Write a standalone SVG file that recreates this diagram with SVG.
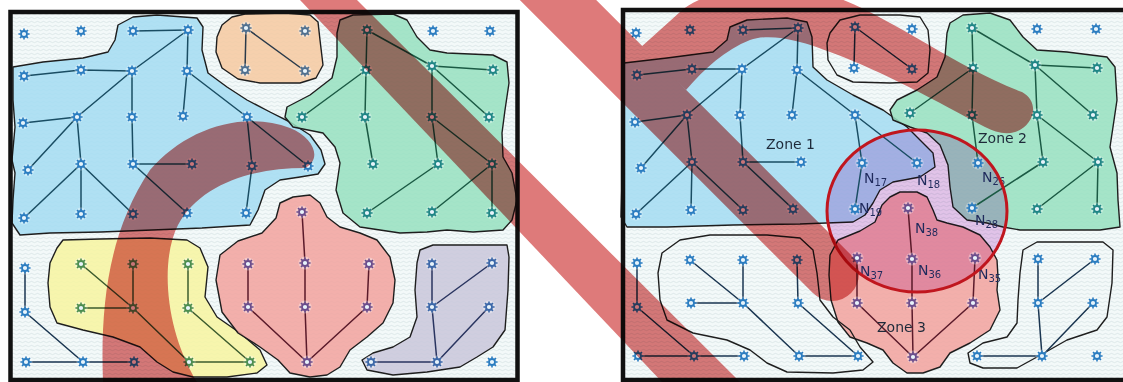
<svg xmlns="http://www.w3.org/2000/svg" xmlns:xlink="http://www.w3.org/1999/xlink" width="1123" height="382" viewBox="0 0 1123 382">
<style>
.zn{stroke:#1e1e1e;stroke-width:1.4;stroke-linejoin:round;fill-opacity:0.85}
.zb{fill:#a3dcf2}.zo{fill:#f6c9a0}.zg{fill:#97e0c0}.zy{fill:#f7f5a0}.zr{fill:#f2a29e}.zp{fill:#c9c7da}.zw{fill:none}
.e line,.e polyline{fill:none;stroke-width:1.5;stroke-linecap:round;stroke-linejoin:round}
.eb{stroke:#1a4d63}.eo{stroke:#2a3a4a}.eg{stroke:#1b5a44}.ey{stroke:#3d5c2e}.ew{stroke:#1a3550}.er{stroke:#5a1a2a}.ep{stroke:#2a3560}
.nb{color:#2a7cc0}.ng{color:#1f8585}.ny{color:#4b8d4f}.nr{color:#6b4d8c}.np{color:#3b67a8}.no{color:#50708f}
.zl{font-family:"DejaVu Sans",Verdana,sans-serif;font-size:14px;fill:#1e2a3a}
.nl{font-family:"DejaVu Sans",Verdana,sans-serif;font-size:14px;fill:#1f2a5c}
.nl tspan{font-size:10px}
.fr{fill:none;stroke:#111;stroke-width:4.5}
</style>
<defs>
<pattern id="tx" width="6" height="4" patternUnits="userSpaceOnUse">
<rect width="6" height="4" fill="#f3f9f9"/>
<path d="M0 2 Q1.5 0.8 3 2 T6 2" fill="none" stroke="#d3e1e3" stroke-width="0.7"/>
</pattern>
<g id="nd">
<circle r="6.5" fill="#ffffff" opacity="0.35"/>
<path d="M0-5.6V-3.4M0 3.4V5.6M-5.6 0H-3.4M3.4 0H5.6M-4-4L-2.4-2.4M2.4 2.4L4 4M-4 4L-2.4 2.4M2.4-2.4L4-4" stroke="currentColor" stroke-width="1.6"/>
<circle r="3" fill="#e8f4fb" stroke="currentColor" stroke-width="1.8"/>
</g>
</defs>
<rect width="1123" height="382" fill="#ffffff"/>
<rect x="10" y="12" width="508" height="368" fill="url(#tx)"/>
<rect x="623" y="10" width="505" height="372" fill="url(#tx)"/>

<g id="zones-left">
<path id="L-zone-blue" class="zn zb" d="M13,67 L43,62 83,58 108,52 115,40 118,25 133,17 157,15 197,18 203,27 202,50 208,73 227,87 247,100 270,112 290,122 310,135 321,150 325,164 318,174 300,177 280,180 265,190 258,210 250,225 202,228 152,230 101,232 50,233 20,235 12,223 13,200 15,173 12,160 15,127 13,100 Z"/>
<path id="L-zone-orange" class="zn zo" d="M217,37 L222,25 232,17 245,14 285,13 310,15 318,22 320,40 323,65 316,78 300,83 260,83 238,79 222,68 216,52 Z"/>
<path id="L-zone-green" class="zn zg" d="M340,20 L353,15 393,14 407,20 417,37 430,50 447,53 493,55 507,62 509,83 505,110 502,133 503,157 512,173 517,200 512,220 503,230 473,232 447,230 427,232 400,233 360,227 343,213 336,190 340,163 335,147 323,133 293,127 285,117 287,107 310,95 332,78 337,57 337,33 Z"/>
<path id="L-zone-yellow" class="zn zy" d="M63,240 L100,239 150,238 187,240 200,248 208,267 205,297 217,317 240,333 260,350 267,365 257,373 227,377 193,377 173,372 157,362 140,347 113,337 83,330 57,323 50,307 48,283 50,263 57,248 Z"/>
<path id="L-zone-red" class="zn zr" d="M276,218 L280,203 293,197 310,195 320,203 327,217 340,227 360,233 377,240 390,257 395,280 393,303 383,323 367,337 350,350 340,367 327,375 310,377 290,373 278,360 260,347 238,333 222,312 216,280 220,255 238,241 262,233 Z"/>
<path id="L-zone-purple" class="zn zp" d="M417,263 L420,250 433,245 507,245 509,257 508,290 505,330 493,347 477,357 460,367 427,372 393,375 367,370 362,360 373,353 393,347 410,337 417,317 415,290 Z"/>
</g>

<g id="zones-right">
<path id="R-zone-1" class="zn zb" d="M624,63 L667,58 713,52 727,40 730,27 747,20 787,18 807,22 812,37 813,67 827,80 853,95 883,110 907,127 920,140 933,153 935,167 920,177 893,182 880,190 873,203 865,215 853,222 800,224 733,225 667,227 627,227 621,217 622,180 624,120 Z"/>
<path id="R-zone-2" class="zn zg" d="M950,23 L963,15 990,13 1010,20 1023,37 1037,50 1067,52 1107,57 1115,67 1117,100 1113,127 1110,147 1117,173 1118,200 1120,227 1100,230 1043,230 1020,230 1003,227 987,223 967,220 953,207 950,187 948,165 940,145 927,133 910,127 893,120 890,110 897,100 917,90 937,77 945,57 947,33 Z"/>
<path id="R-zone-3" class="zn zr" d="M890,197 L900,192 917,192 927,197 933,210 937,220 947,223 963,227 980,235 990,247 997,260 998,277 997,290 1000,310 990,330 970,343 950,353 940,367 923,373 907,373 893,363 883,350 867,343 850,337 838,322 831,300 829,275 830,255 838,240 860,231 875,222 882,205 Z"/>
<path id="R-zone-top" class="zn zw" d="M827,43 L830,33 840,20 860,15 900,15 920,17 928,30 930,50 928,73 917,82 890,83 853,82 837,75 828,60 Z"/>
<path id="R-zone-bl" class="zn zw" d="M662,253 L680,240 710,235 767,235 800,238 813,250 817,273 820,300 833,317 850,330 860,347 873,362 863,370 833,373 787,372 767,363 750,350 727,340 693,333 667,320 660,300 658,273 Z"/>
<path id="R-zone-br" class="zn zw" d="M1020,273 L1023,250 1037,242 1103,242 1113,250 1112,283 1107,317 1097,330 1067,340 1037,357 1017,368 983,368 970,363 968,353 983,343 1007,337 1017,323 1018,300 Z"/>
</g>

<ellipse id="circle-tint" cx="917" cy="211" rx="90" ry="81" fill="#ecc8ee" style="mix-blend-mode:multiply"/>

<g id="connectors" class="e">
<g class="eb">
<line x1="133" y1="31" x2="188" y2="30"/><line x1="188" y1="30" x2="187" y2="71"/>
<polyline points="188,30 132,71 77,117"/><polyline points="24,76 81,70 132,71 132,117 133,164 192,164"/>
<line x1="187" y1="71" x2="183" y2="116"/><polyline points="187,71 247,117 308,166"/>
<polyline points="247,117 252,166 246,213"/><line x1="23" y1="123" x2="77" y2="117"/>
<line x1="77" y1="117" x2="28" y2="170"/><line x1="77" y1="117" x2="81" y2="164"/>
<line x1="81" y1="164" x2="24" y2="218"/><line x1="81" y1="164" x2="81" y2="214"/>
<line x1="81" y1="164" x2="133" y2="214"/><line x1="133" y1="164" x2="187" y2="213"/>
</g>
<g class="eo"><line x1="246" y1="28" x2="245" y2="70"/><line x1="246" y1="28" x2="305" y2="71"/></g>
<g class="eg">
<polyline points="367,30 366,70 365,117 373,164"/><line x1="366" y1="70" x2="302" y2="117"/>
<line x1="367" y1="30" x2="432" y2="66"/><line x1="432" y1="66" x2="493" y2="70"/>
<line x1="432" y1="66" x2="489" y2="117"/><polyline points="432,66 432,117 438,164"/>
<line x1="432" y1="117" x2="492" y2="164"/><line x1="438" y1="164" x2="367" y2="213"/>
<line x1="492" y1="164" x2="432" y2="212"/><line x1="492" y1="164" x2="492" y2="213"/>
</g>
<g class="ey">
<polyline points="81,264 133,308 189,362"/><line x1="81" y1="308" x2="133" y2="308"/>
<line x1="133" y1="264" x2="133" y2="308"/><line x1="188" y1="264" x2="188" y2="308"/>
<line x1="188" y1="308" x2="250" y2="362"/><line x1="189" y1="362" x2="250" y2="362"/>
</g>
<g class="ew">
<line x1="25" y1="268" x2="25" y2="312"/><line x1="25" y1="312" x2="83" y2="362"/>
<polyline points="26,362 83,362 134,362"/>
</g>
<g class="er">
<polyline points="302,212 305,263 305,307 307,362"/><line x1="248" y1="264" x2="248" y2="307"/>
<line x1="248" y1="307" x2="307" y2="362"/><line x1="369" y1="264" x2="367" y2="307"/>
<line x1="367" y1="307" x2="307" y2="362"/>
</g>
<g class="ep">
<polyline points="432,264 432,307 437,362"/><line x1="432" y1="307" x2="492" y2="263"/>
<line x1="489" y1="307" x2="437" y2="362"/><line x1="371" y1="362" x2="437" y2="362"/>
</g>

<g class="eb">
<line x1="743" y1="30" x2="798" y2="28"/><line x1="798" y1="28" x2="797" y2="70"/>
<polyline points="798,28 742,69 687,115"/><polyline points="637,75 692,69 742,69 740,115 743,162 801,162"/>
<line x1="797" y1="70" x2="792" y2="115"/><polyline points="797,70 855,115 917,163"/>
<polyline points="855,115 862,163 855,209"/><line x1="635" y1="122" x2="687" y2="115"/>
<line x1="687" y1="115" x2="641" y2="168"/><line x1="687" y1="115" x2="692" y2="162"/>
<line x1="692" y1="162" x2="636" y2="214"/><line x1="692" y1="162" x2="691" y2="210"/>
<line x1="692" y1="162" x2="743" y2="210"/><line x1="743" y1="162" x2="793" y2="209"/>
</g>
<g class="ew"><line x1="855" y1="27" x2="854" y2="68"/><line x1="855" y1="27" x2="912" y2="69"/></g>
<g class="eg">
<polyline points="972,28 973,68 972,115 978,163"/><line x1="973" y1="68" x2="910" y2="113"/>
<line x1="972" y1="28" x2="1035" y2="65"/><line x1="1035" y1="65" x2="1097" y2="68"/>
<line x1="1035" y1="65" x2="1093" y2="115"/><polyline points="1035,65 1037,115 1043,162"/>
<line x1="1037" y1="115" x2="1098" y2="162"/><line x1="1043" y1="162" x2="972" y2="208"/>
<line x1="1098" y1="162" x2="1037" y2="209"/><line x1="1098" y1="162" x2="1097" y2="209"/>
</g>
<g class="ew">
<polyline points="690,260 743,303 799,356"/><line x1="691" y1="303" x2="743" y2="303"/>
<line x1="743" y1="260" x2="743" y2="303"/><line x1="797" y1="260" x2="798" y2="303"/>
<line x1="798" y1="303" x2="858" y2="356"/><line x1="799" y1="356" x2="858" y2="356"/>
<line x1="637" y1="263" x2="637" y2="307"/><line x1="637" y1="307" x2="694" y2="356"/>
<polyline points="638,356 694,356 744,356"/>
<polyline points="1038,259 1038,303 1042,356"/><line x1="1038" y1="303" x2="1095" y2="259"/>
<line x1="1093" y1="303" x2="1042" y2="356"/><line x1="977" y1="356" x2="1042" y2="356"/>
</g>
<g class="er">
<polyline points="908,208 912,259 912,303 913,357"/><line x1="857" y1="258" x2="857" y2="303"/>
<line x1="857" y1="303" x2="913" y2="357"/><line x1="975" y1="258" x2="973" y2="303"/>
<line x1="973" y1="303" x2="913" y2="357"/>
</g>
</g>

<g id="nodes-left">
<g id="L11" class="nb"><use href="#nd" x="24" y="34"/></g><g id="L12" class="nb"><use href="#nd" x="81" y="31"/></g><g id="L13" class="nb"><use href="#nd" x="133" y="31"/></g><g id="L14" class="nb"><use href="#nd" x="188" y="30"/></g><g id="L15" class="no"><use href="#nd" x="246" y="28"/></g><g id="L16" class="no"><use href="#nd" x="305" y="31"/></g><g id="L17" class="ng"><use href="#nd" x="367" y="30"/></g><g id="L18" class="nb"><use href="#nd" x="433" y="31"/></g><g id="L19" class="nb"><use href="#nd" x="490" y="31"/></g>
<g id="L21" class="nb"><use href="#nd" x="24" y="76"/></g><g id="L22" class="nb"><use href="#nd" x="81" y="70"/></g><g id="L23" class="nb"><use href="#nd" x="132" y="71"/></g><g id="L24" class="nb"><use href="#nd" x="187" y="71"/></g><g id="L25" class="no"><use href="#nd" x="245" y="70"/></g><g id="L26" class="no"><use href="#nd" x="305" y="71"/></g><g id="L27" class="ng"><use href="#nd" x="366" y="70"/></g><g id="L28" class="ng"><use href="#nd" x="432" y="66"/></g><g id="L29" class="ng"><use href="#nd" x="493" y="70"/></g>
<g id="L31" class="nb"><use href="#nd" x="23" y="123"/></g><g id="L32" class="nb"><use href="#nd" x="77" y="117"/></g><g id="L33" class="nb"><use href="#nd" x="132" y="117"/></g><g id="L34" class="nb"><use href="#nd" x="183" y="116"/></g><g id="L35" class="nb"><use href="#nd" x="247" y="117"/></g><g id="L36" class="ng"><use href="#nd" x="302" y="117"/></g><g id="L37" class="ng"><use href="#nd" x="365" y="117"/></g><g id="L38" class="ng"><use href="#nd" x="432" y="117"/></g><g id="L39" class="ng"><use href="#nd" x="489" y="117"/></g>
<g id="L41" class="nb"><use href="#nd" x="28" y="170"/></g><g id="L42" class="nb"><use href="#nd" x="81" y="164"/></g><g id="L43" class="nb"><use href="#nd" x="133" y="164"/></g><g id="L44" class="nb"><use href="#nd" x="192" y="164"/></g><g id="L45" class="nb"><use href="#nd" x="252" y="166"/></g><g id="L46" class="nb"><use href="#nd" x="308" y="166"/></g><g id="L47" class="ng"><use href="#nd" x="373" y="164"/></g><g id="L48" class="ng"><use href="#nd" x="438" y="164"/></g><g id="L49" class="ng"><use href="#nd" x="492" y="164"/></g>
<g id="L51" class="nb"><use href="#nd" x="24" y="218"/></g><g id="L52" class="nb"><use href="#nd" x="81" y="214"/></g><g id="L53" class="nb"><use href="#nd" x="133" y="214"/></g><g id="L54" class="nb"><use href="#nd" x="187" y="213"/></g><g id="L55" class="nb"><use href="#nd" x="246" y="213"/></g><g id="L56" class="nr"><use href="#nd" x="302" y="212"/></g><g id="L57" class="ng"><use href="#nd" x="367" y="213"/></g><g id="L58" class="ng"><use href="#nd" x="432" y="212"/></g><g id="L59" class="ng"><use href="#nd" x="492" y="213"/></g>
<g id="L61" class="nb"><use href="#nd" x="25" y="268"/></g><g id="L62" class="ny"><use href="#nd" x="81" y="264"/></g><g id="L63" class="ny"><use href="#nd" x="133" y="264"/></g><g id="L64" class="ny"><use href="#nd" x="188" y="264"/></g><g id="L65" class="nr"><use href="#nd" x="248" y="264"/></g><g id="L66" class="nr"><use href="#nd" x="305" y="263"/></g><g id="L67" class="nr"><use href="#nd" x="369" y="264"/></g><g id="L68" class="np"><use href="#nd" x="432" y="264"/></g><g id="L69" class="np"><use href="#nd" x="492" y="263"/></g>
<g id="L71" class="nb"><use href="#nd" x="25" y="312"/></g><g id="L72" class="ny"><use href="#nd" x="81" y="308"/></g><g id="L73" class="ny"><use href="#nd" x="133" y="308"/></g><g id="L74" class="ny"><use href="#nd" x="188" y="308"/></g><g id="L75" class="nr"><use href="#nd" x="248" y="307"/></g><g id="L76" class="nr"><use href="#nd" x="305" y="307"/></g><g id="L77" class="nr"><use href="#nd" x="367" y="307"/></g><g id="L78" class="np"><use href="#nd" x="432" y="307"/></g><g id="L79" class="np"><use href="#nd" x="489" y="307"/></g>
<g id="L81" class="nb"><use href="#nd" x="26" y="362"/></g><g id="L82" class="nb"><use href="#nd" x="83" y="362"/></g><g id="L83" class="nb"><use href="#nd" x="134" y="362"/></g><g id="L84" class="ny"><use href="#nd" x="189" y="362"/></g><g id="L85" class="ny"><use href="#nd" x="250" y="362"/></g><g id="L86" class="nr"><use href="#nd" x="307" y="362"/></g><g id="L87" class="np"><use href="#nd" x="371" y="362"/></g><g id="L88" class="np"><use href="#nd" x="437" y="362"/></g><g id="L89" class="nb"><use href="#nd" x="492" y="362"/></g>
</g>

<g id="nodes-right">
<g id="R11" class="nb"><use href="#nd" x="636" y="33"/></g><g id="R12" class="nb"><use href="#nd" x="690" y="30"/></g><g id="R13" class="nb"><use href="#nd" x="743" y="30"/></g><g id="R14" class="nb"><use href="#nd" x="798" y="28"/></g><g id="R15" class="nb"><use href="#nd" x="855" y="27"/></g><g id="R16" class="nb"><use href="#nd" x="912" y="29"/></g><g id="R17" class="ng"><use href="#nd" x="972" y="28"/></g><g id="R18" class="nb"><use href="#nd" x="1037" y="29"/></g><g id="R19" class="nb"><use href="#nd" x="1096" y="29"/></g>
<g id="R21" class="nb"><use href="#nd" x="637" y="75"/></g><g id="R22" class="nb"><use href="#nd" x="692" y="69"/></g><g id="R23" class="nb"><use href="#nd" x="742" y="69"/></g><g id="R24" class="nb"><use href="#nd" x="797" y="70"/></g><g id="R25" class="nb"><use href="#nd" x="854" y="68"/></g><g id="R26" class="nb"><use href="#nd" x="912" y="69"/></g><g id="R27" class="ng"><use href="#nd" x="973" y="68"/></g><g id="R28" class="ng"><use href="#nd" x="1035" y="65"/></g><g id="R29" class="ng"><use href="#nd" x="1097" y="68"/></g>
<g id="R31" class="nb"><use href="#nd" x="635" y="122"/></g><g id="R32" class="nb"><use href="#nd" x="687" y="115"/></g><g id="R33" class="nb"><use href="#nd" x="740" y="115"/></g><g id="R34" class="nb"><use href="#nd" x="792" y="115"/></g><g id="R35" class="nb"><use href="#nd" x="855" y="115"/></g><g id="R36" class="ng"><use href="#nd" x="910" y="113"/></g><g id="R37" class="ng"><use href="#nd" x="972" y="115"/></g><g id="R38" class="ng"><use href="#nd" x="1037" y="115"/></g><g id="R39" class="ng"><use href="#nd" x="1093" y="115"/></g>
<g id="R41" class="nb"><use href="#nd" x="641" y="168"/></g><g id="R42" class="nb"><use href="#nd" x="692" y="162"/></g><g id="R43" class="nb"><use href="#nd" x="743" y="162"/></g><g id="R44" class="nb"><use href="#nd" x="801" y="162"/></g><g id="R45" class="nb"><use href="#nd" x="862" y="163"/></g><g id="R46" class="nb"><use href="#nd" x="917" y="163"/></g><g id="R47" class="nb"><use href="#nd" x="978" y="163"/></g><g id="R48" class="ng"><use href="#nd" x="1043" y="162"/></g><g id="R49" class="ng"><use href="#nd" x="1098" y="162"/></g>
<g id="R51" class="nb"><use href="#nd" x="636" y="214"/></g><g id="R52" class="nb"><use href="#nd" x="691" y="210"/></g><g id="R53" class="nb"><use href="#nd" x="743" y="210"/></g><g id="R54" class="nb"><use href="#nd" x="793" y="209"/></g><g id="R55" class="nb"><use href="#nd" x="855" y="209"/></g><g id="R56" class="nr"><use href="#nd" x="908" y="208"/></g><g id="R57" class="nb"><use href="#nd" x="972" y="208"/></g><g id="R58" class="ng"><use href="#nd" x="1037" y="209"/></g><g id="R59" class="ng"><use href="#nd" x="1097" y="209"/></g>
<g id="R61" class="nb"><use href="#nd" x="637" y="263"/></g><g id="R62" class="nb"><use href="#nd" x="690" y="260"/></g><g id="R63" class="nb"><use href="#nd" x="743" y="260"/></g><g id="R64" class="nb"><use href="#nd" x="797" y="260"/></g><g id="R65" class="nr"><use href="#nd" x="857" y="258"/></g><g id="R66" class="nr"><use href="#nd" x="912" y="259"/></g><g id="R67" class="nr"><use href="#nd" x="975" y="258"/></g><g id="R68" class="nb"><use href="#nd" x="1038" y="259"/></g><g id="R69" class="nb"><use href="#nd" x="1095" y="259"/></g>
<g id="R71" class="nb"><use href="#nd" x="637" y="307"/></g><g id="R72" class="nb"><use href="#nd" x="691" y="303"/></g><g id="R73" class="nb"><use href="#nd" x="743" y="303"/></g><g id="R74" class="nb"><use href="#nd" x="798" y="303"/></g><g id="R75" class="nr"><use href="#nd" x="857" y="303"/></g><g id="R76" class="nr"><use href="#nd" x="912" y="303"/></g><g id="R77" class="nr"><use href="#nd" x="973" y="303"/></g><g id="R78" class="nb"><use href="#nd" x="1038" y="303"/></g><g id="R79" class="nb"><use href="#nd" x="1093" y="303"/></g>
<g id="R81" class="nb"><use href="#nd" x="638" y="356"/></g><g id="R82" class="nb"><use href="#nd" x="694" y="356"/></g><g id="R83" class="nb"><use href="#nd" x="744" y="356"/></g><g id="R84" class="nb"><use href="#nd" x="799" y="356"/></g><g id="R85" class="nb"><use href="#nd" x="858" y="356"/></g><g id="R86" class="nr"><use href="#nd" x="913" y="357"/></g><g id="R87" class="nb"><use href="#nd" x="977" y="356"/></g><g id="R88" class="nb"><use href="#nd" x="1042" y="356"/></g><g id="R89" class="nb"><use href="#nd" x="1097" y="356"/></g>
</g>

<g id="labels">
<text class="zl" x="766" y="149">Zone 1</text>
<text class="zl" x="978" y="143">Zone 2</text>
<text class="zl" x="877" y="332">Zone 3</text>
<text class="nl" x="864" y="183">N<tspan dy="3">17</tspan></text>
<text class="nl" x="917" y="185">N<tspan dy="3">18</tspan></text>
<text class="nl" x="859" y="213">N<tspan dy="3">19</tspan></text>
<text class="nl" x="982" y="182">N<tspan dy="3">26</tspan></text>
<text class="nl" x="975" y="225">N<tspan dy="3">28</tspan></text>
<text class="nl" x="915" y="233">N<tspan dy="3">38</tspan></text>
<text class="nl" x="860" y="276">N<tspan dy="3">37</tspan></text>
<text class="nl" x="918" y="275">N<tspan dy="3">36</tspan></text>
<text class="nl" x="978" y="279">N<tspan dy="3">35</tspan></text>
</g>

<ellipse id="circle" cx="917" cy="211" rx="90" ry="81" fill="none" stroke="#c0161e" stroke-width="3"/>

<rect class="fr" x="10.5" y="12" width="507" height="368"/>
<rect class="fr" x="623" y="10" width="510" height="370" stroke-width="5"/>

<g id="overlay" style="mix-blend-mode:multiply" fill="#de7a7a">
<polygon points="300,0 357,0 740,382 662,382"/>
<line x1="515" y1="-43" x2="832" y2="274" stroke="#de7a7a" stroke-width="54" stroke-linecap="round"/>
<path d="M640,48 L680,12 C700,-8 760,-20 820,-8 C880,8 950,65 1022,92 C1040,102 1035,125 1015,132 C1005,135 995,132 985,127 C940,103 880,70 830,52 C800,40 770,33 750,40 C725,50 705,68 686,90 Z"/>
<path d="M103,382 C100,300 110,230 150,170 C185,130 240,110 290,128 C315,138 322,160 305,168 C250,168 200,185 178,225 C160,260 165,330 197,382 Z"/>
</g>
</svg>
